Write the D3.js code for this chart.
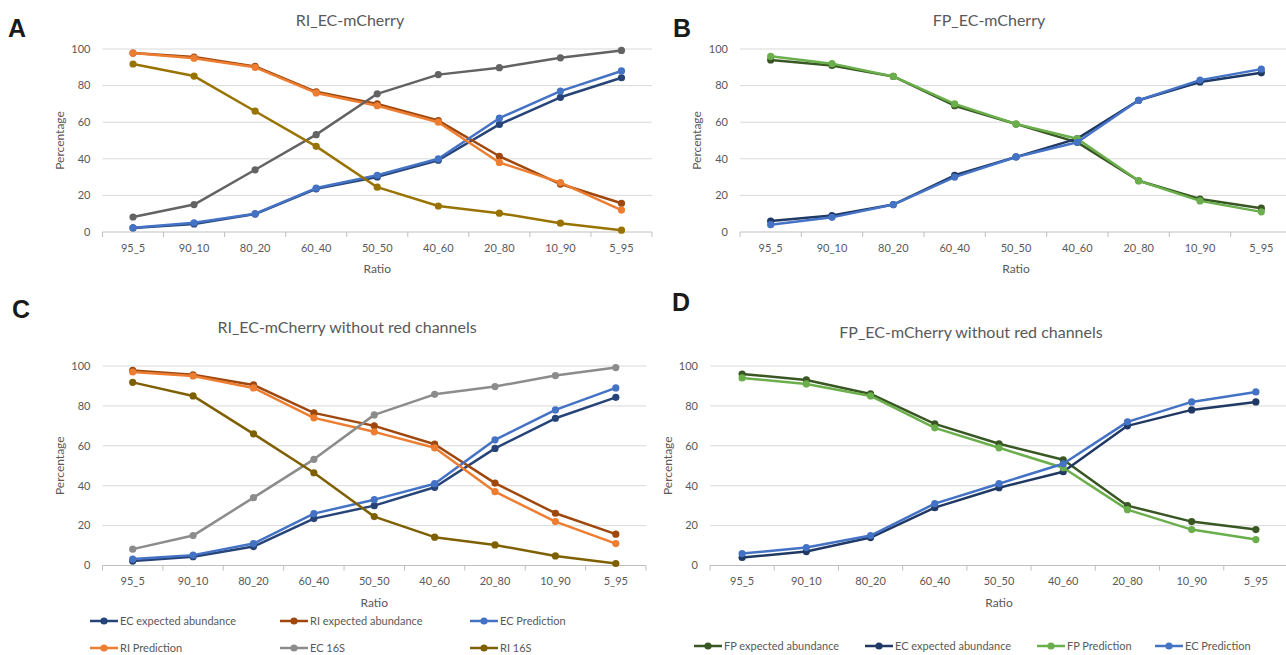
<!DOCTYPE html>
<html>
<head>
<meta charset="utf-8">
<script src="https://cdn.jsdelivr.net/npm/d3@7"></script>
<style>
  body { margin: 0; background: #fff; }
  text { font-family: Lato, "Open Sans", sans-serif; fill: #595959; }
  .letter { font-family: "Liberation Sans", Arial, sans-serif; font-weight: bold; fill: #1a1a1a; }
</style>
</head>
<body>
<div id="chart"></div>
<script>
const ratios = ["95_5", "90_10", "80_20", "60_40", "50_50", "40_60", "20_80", "10_90", "5_95"];
const yTicks = [0, 20, 40, 60, 80, 100];

// A: RI_EC-mCherry
const aEcExpected = [2.2, 4.4, 9.8, 23.6, 30.1, 39.2, 58.8, 73.6, 84.3];
const aRiExpected = [97.8, 95.6, 90.5, 76.6, 70.0, 60.9, 41.4, 26.2, 15.7];
const aEcPrediction = [2.3, 5.0, 10.0, 24.0, 31.0, 40.0, 62.2, 77.0, 88.0];
const aRiPrediction = [97.8, 95.0, 90.0, 76.0, 69.0, 60.0, 38.0, 27.0, 12.0];
const aEc16S = [8.2, 15.0, 34.0, 53.2, 75.5, 86.0, 89.8, 95.2, 99.2];
const aRi16S = [91.8, 85.2, 66.0, 46.8, 24.5, 14.2, 10.3, 4.8, 1.0];

// B: FP_EC-mCherry
const bFpExpected = [94, 91, 85, 69, 59, 49, 28, 18, 13];
const bEcExpected = [6, 9, 15, 31, 41, 51, 72, 82, 87];
const bFpPrediction = [96, 92, 85, 70, 59, 51, 28, 17, 11];
const bEcPrediction = [4, 8, 15, 30, 41, 49, 72, 83, 89];

// C: RI_EC-mCherry without red channels
const cEcExpected = [2.2, 4.4, 9.5, 23.5, 30.0, 39.2, 58.7, 73.8, 84.3];
const cRiExpected = [97.8, 95.6, 90.5, 76.5, 70.0, 60.8, 41.3, 26.2, 15.7];
const cEcPrediction = [3.2, 5.2, 11.0, 26.0, 33.0, 41.0, 63.0, 78.0, 89.0];
const cRiPrediction = [97.0, 95.0, 89.0, 74.0, 67.0, 59.0, 37.0, 22.0, 11.0];
const cEc16S = [8.2, 15.0, 34.0, 53.2, 75.5, 85.8, 89.7, 95.2, 99.2];
const cRi16S = [91.8, 85.0, 66.0, 46.5, 24.5, 14.2, 10.3, 4.8, 1.0];

// D: FP_EC-mCherry without red channels
const dFpExpected = [96, 93, 86, 71, 61, 53, 30, 22, 18];
const dEcExpected = [4, 7, 14, 29, 39, 47, 70, 78, 82];
const dFpPrediction = [94, 91, 85, 69, 59, 49, 28, 18, 13];
const dEcPrediction = [6, 9, 15, 31, 41, 51, 72, 82, 87];

const riNames = ["EC expected abundance", "RI expected abundance", "EC Prediction", "RI Prediction", "EC 16S", "RI 16S"];
const fpNames = ["FP expected abundance", "EC expected abundance", "FP Prediction", "EC Prediction"];

const svg = d3.select("#chart").append("svg")
    .attr("width", 1286)
    .attr("height", 655);

svg.append("rect").attr("width", 1286).attr("height", 655).attr("fill", "#fff");

const panels = [
    {
        letter: "A", lx: 8, ly: 37, title: "RI_EC-mCherry", tx: 350, ty: 20,
        left: 102.5, right: 652, top: 49, bottom: 232, px: 60, ry: 269,
        series: [aEcExpected, aRiExpected, aEcPrediction, aRiPrediction, aEc16S, aRi16S],
        names: riNames,
        colors: ["#264478", "#9e480e", "#4472c4", "#ed7d31", "#636363", "#997300"]
    },
    {
        letter: "B", lx: 673, ly: 37, title: "FP_EC-mCherry", tx: 989, ty: 20,
        left: 740, right: 1292, top: 49, bottom: 232, px: 697, ry: 269,
        series: [bFpExpected, bEcExpected, bFpPrediction, bEcPrediction],
        names: fpNames,
        colors: ["#385723", "#1f3864", "#6aaf4c", "#4472c4"]
    },
    {
        letter: "C", lx: 12, ly: 318, title: "RI_EC-mCherry without red channels", tx: 347, ty: 327,
        left: 102.5, right: 646, top: 366, bottom: 565.5, px: 60, ry: 603,
        series: [cEcExpected, cRiExpected, cEcPrediction, cRiPrediction, cEc16S, cRi16S],
        names: riNames,
        colors: ["#264478", "#9e480e", "#4472c4", "#ed7d31", "#8c8c8c", "#7f6000"],
        legend: { x0: 90, dx: 190, cols: 3, y0: 621, dy: 27 }
    },
    {
        letter: "D", lx: 672, ly: 311, title: "FP_EC-mCherry without red channels", tx: 971, ty: 332,
        left: 710, right: 1288, top: 366, bottom: 565.5, px: 668, ry: 603,
        series: [dFpExpected, dEcExpected, dFpPrediction, dEcPrediction],
        names: fpNames,
        colors: ["#385723", "#203864", "#6aaf4c", "#4472c4"],
        legendX: [694, 865, 1037, 1155], legendY: 646
    }
];

panels.forEach(drawPanel);

function drawPanel(p) {
    const g = svg.append("g");

    const x = d3.scalePoint().domain(ratios).range([p.left, p.right]).padding(0.5);
    const y = d3.scaleLinear().domain([0, 100]).range([p.bottom, p.top]);
    const step = x.step();

    // gridlines
    g.append("g").selectAll("line")
        .data(yTicks.filter(d => d > 0))
        .enter().append("line")
        .attr("x1", p.left).attr("x2", p.right)
        .attr("y1", d => y(d)).attr("y2", d => y(d))
        .attr("stroke", "#d9d9d9").attr("stroke-width", 1);

    // y tick labels
    g.append("g").selectAll("text")
        .data(yTicks)
        .enter().append("text")
        .attr("x", p.left - 12)
        .attr("y", d => y(d))
        .attr("dy", "0.35em")
        .attr("text-anchor", "end")
        .style("font-size", "11px")
        .text(d => d);

    // x axis
    const xAxis = g.append("g").attr("transform", "translate(0," + p.bottom + ")");
    xAxis.append("line")
        .attr("x1", p.left).attr("x2", p.right)
        .attr("stroke", "#bfbfbf").attr("stroke-width", 1);
    xAxis.selectAll(".tick-mark")
        .data(d3.range(ratios.length + 1))
        .enter().append("line")
        .attr("x1", i => p.left + i * step).attr("x2", i => p.left + i * step)
        .attr("y1", 0).attr("y2", 5)
        .attr("stroke", "#bfbfbf");
    xAxis.selectAll(".tick-label")
        .data(ratios)
        .enter().append("text")
        .attr("x", d => x(d))
        .attr("y", 16)
        .attr("dy", "0.35em")
        .attr("text-anchor", "middle")
        .style("font-size", "11px")
        .text(d => d);

    // axis titles
    g.append("text")
        .attr("x", (p.left + p.right) / 2)
        .attr("y", p.ry)
        .attr("dy", "0.35em")
        .attr("text-anchor", "middle")
        .style("font-size", "12px")
        .text("Ratio");
    g.append("text")
        .attr("transform", "translate(" + p.px + "," + (p.top + p.bottom) / 2 + ") rotate(-90)")
        .attr("dy", "0.35em")
        .attr("text-anchor", "middle")
        .style("font-size", "12px")
        .text("Percentage");

    // title and panel letter
    g.append("text")
        .attr("x", p.tx).attr("y", p.ty)
        .attr("dy", "0.35em")
        .attr("text-anchor", "middle")
        .style("font-size", "16px")
        .text(p.title);
    g.append("text")
        .attr("class", "letter")
        .attr("x", p.lx).attr("y", p.ly)
        .style("font-size", "25px")
        .text(p.letter);

    // series
    const line = d3.line().x((d, i) => x(ratios[i])).y(d => y(d));
    p.series.forEach((vals, k) => {
        const s = g.append("g");
        s.append("path")
            .datum(vals)
            .attr("d", line)
            .attr("fill", "none")
            .attr("stroke", p.colors[k])
            .attr("stroke-width", 2.5)
            .attr("stroke-linejoin", "round");
        s.selectAll("circle")
            .data(vals)
            .enter().append("circle")
            .attr("cx", (d, i) => x(ratios[i]))
            .attr("cy", d => y(d))
            .attr("r", 3.6)
            .attr("fill", p.colors[k]);
    });

    // legend
    let items = [];
    if (p.legend) {
        items = p.names.map((n, k) => ({
            name: n, color: p.colors[k],
            x: p.legend.x0 + (k % p.legend.cols) * p.legend.dx,
            y: p.legend.y0 + Math.floor(k / p.legend.cols) * p.legend.dy
        }));
    } else if (p.legendX) {
        items = p.names.map((n, k) => ({ name: n, color: p.colors[k], x: p.legendX[k], y: p.legendY }));
    }
    const leg = g.append("g").selectAll("g")
        .data(items)
        .enter().append("g")
        .attr("transform", d => "translate(" + d.x + "," + d.y + ")");
    leg.append("line")
        .attr("x1", 0).attr("x2", 28)
        .attr("stroke", d => d.color).attr("stroke-width", 2.5);
    leg.append("circle")
        .attr("cx", 14).attr("r", 3.6)
        .attr("fill", d => d.color);
    leg.append("text")
        .attr("x", 30)
        .attr("dy", "0.35em")
        .style("font-size", "11px")
        .text(d => d.name);
}
</script>
</body>
</html>
